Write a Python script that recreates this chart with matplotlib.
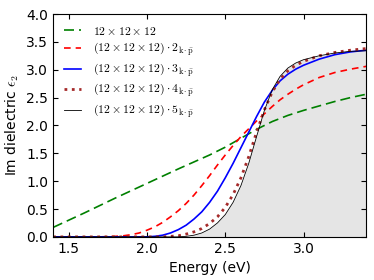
import numpy as np
import matplotlib
matplotlib.use('Agg')
import matplotlib.pyplot as plt

plt.rcParams['mathtext.fontset'] = 'cm'
plt.rcParams['xtick.direction'] = 'in'
plt.rcParams['ytick.direction'] = 'in'

# values
e_green = [1.4, 1.6, 1.8, 2.0, 2.2, 2.4, 2.5, 2.6, 2.7, 2.8, 2.9, 3.0, 3.1, 3.2, 3.3, 3.4]
green = [0.17, 0.43, 0.70, 0.96, 1.22, 1.47, 1.61, 1.77, 1.93, 2.07, 2.18, 2.27, 2.35, 2.43, 2.50, 2.56]

e_red = [1.4, 1.7, 1.8, 1.85, 1.9, 1.95, 2.0, 2.05, 2.1, 2.15, 2.2, 2.25, 2.3, 2.35, 2.4, 2.45,
         2.5, 2.55, 2.6, 2.65, 2.7, 2.75, 2.8, 2.85, 2.9, 2.95, 3.0, 3.1, 3.2, 3.3, 3.4]
red = [0.0, 0.0, 0.01, 0.02, 0.04, 0.07, 0.12, 0.18, 0.26, 0.36, 0.47, 0.60, 0.75, 0.92, 1.10, 1.29,
       1.47, 1.64, 1.80, 1.94, 2.08, 2.21, 2.34, 2.46, 2.56, 2.65, 2.73, 2.86, 2.95, 3.01, 3.06]

e_blue = [1.4, 2.0, 2.05, 2.1, 2.15, 2.2, 2.25, 2.3, 2.35, 2.4, 2.45, 2.5, 2.55, 2.6, 2.65,
          2.7, 2.75, 2.8, 2.85, 2.9, 2.95, 3.0, 3.1, 3.2, 3.3, 3.4]
blue = [0.0, 0.0, 0.01, 0.03, 0.07, 0.13, 0.21, 0.32, 0.45, 0.62, 0.82, 1.06, 1.32, 1.60, 1.88,
        2.16, 2.42, 2.63, 2.80, 2.92, 3.01, 3.08, 3.19, 3.27, 3.32, 3.35]

e_dot = [1.4, 2.1, 2.15, 2.2, 2.25, 2.3, 2.35, 2.4, 2.45, 2.5, 2.55, 2.6, 2.65, 2.7, 2.75,
         2.8, 2.85, 2.9, 2.95, 3.0, 3.1, 3.2, 3.3, 3.4]
dot = [0.0, 0.0, 0.01, 0.02, 0.05, 0.09, 0.15, 0.24, 0.36, 0.53, 0.76, 1.06, 1.44, 1.88, 2.28,
       2.60, 2.83, 2.98, 3.08, 3.15, 3.25, 3.31, 3.35, 3.38]

e_black = [1.4, 2.2, 2.25, 2.3, 2.35, 2.4, 2.45, 2.5, 2.55, 2.6, 2.65, 2.7, 2.75, 2.8, 2.85,
           2.9, 2.95, 3.0, 3.1, 3.2, 3.3, 3.4]
black = [0.0, 0.0, 0.01, 0.03, 0.07, 0.14, 0.25, 0.40, 0.62, 0.92, 1.32, 1.80, 2.27, 2.64, 2.88,
         3.03, 3.12, 3.18, 3.25, 3.30, 3.33, 3.34]

labels = [r'$12\times12\times12$',
          r'$(12\times12\times12)\cdot2_{\mathrm{k}\cdot\bar{\mathrm{p}}}$',
          r'$(12\times12\times12)\cdot3_{\mathrm{k}\cdot\bar{\mathrm{p}}}$',
          r'$(12\times12\times12)\cdot4_{\mathrm{k}\cdot\bar{\mathrm{p}}}$',
          r'$(12\times12\times12)\cdot5_{\mathrm{k}\cdot\bar{\mathrm{p}}}$']

fig = plt.figure(figsize=(3.74, 2.8), dpi=100)
ax = fig.add_axes([0.142, 0.154, 0.837, 0.796])

ax.fill_between(e_black, black, 0, color='#e5e5e5', lw=0)
ax.plot(e_green, green, color='green', ls='--', dashes=(6, 3), lw=1.2, label=labels[0])
ax.plot(e_red, red, color='red', ls='--', dashes=(4, 3), lw=1.2, label=labels[1])
ax.plot(e_blue, blue, color='blue', lw=1.2, label=labels[2])
ax.plot(e_dot, dot, color='#a52a2a', ls=':', lw=2.0, label=labels[3])
ax.plot(e_black, black, color='black', lw=0.6, label=labels[4])

ax.set_xlim(1.4, 3.4)
ax.set_ylim(0, 4.0)
ax.set_xticks([1.5, 2.0, 2.5, 3.0])
ax.set_yticks(np.arange(0, 4.01, 0.5))
ax.tick_params(top=True, right=True, labelsize=10)
ax.set_xlabel('Energy (eV)', fontsize=10)
ax.set_ylabel(r'Im dielectric $\epsilon_2$', fontsize=10)
ax.legend(loc='upper left', frameon=False, fontsize=8.5, labelspacing=0.3,
          handlelength=1.5, handletextpad=1.0)

fig.savefig('out.png', dpi=100)
